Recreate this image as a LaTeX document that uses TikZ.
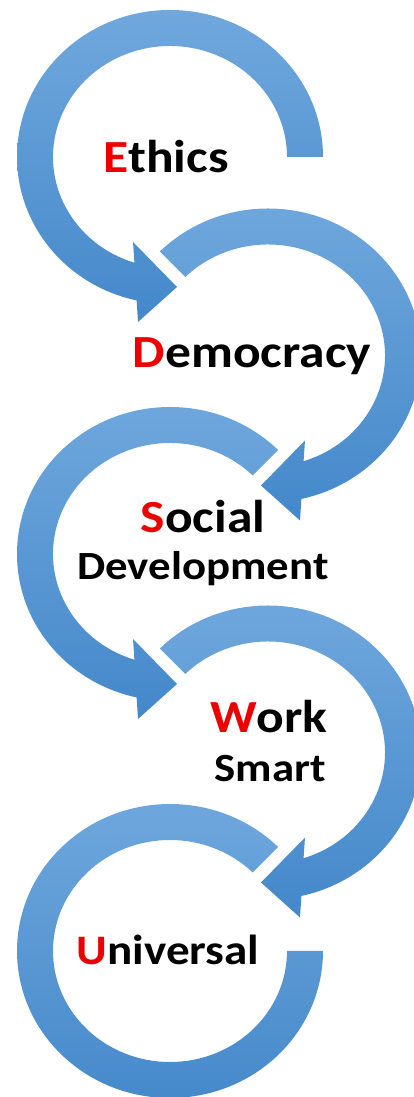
\documentclass[tikz,border=0pt]{standalone}
\usepackage{fontspec}
\setmainfont{Carlito}
\newfontfamily\labelfont[FakeStretch=1.12]{Carlito}
\usepackage{tikz}
\definecolor{ringtop}{RGB}{112,168,221}
\definecolor{ringbot}{RGB}{68,136,202}
\definecolor{initred}{RGB}{236,0,0}
\newcommand{\redcap}[1]{\textcolor{initred}{#1}}

\begin{document}
\begin{tikzpicture}[x=1pt,y=1pt,
  ring/.style={top color=ringtop,bottom color=ringbot},
  big/.style={anchor=base,inner sep=0pt,font=\labelfont\bfseries\fontsize{46}{50}\selectfont},
  small/.style={anchor=base,inner sep=0pt,font=\labelfont\bfseries\fontsize{40}{44}\selectfont}]
\useasboundingbox (0,0) rectangle (414,1097);
\foreach \cx/\cy/\sx/\st in {170/940/1/0,268/741.5/-1/45,170/543/1/45,268/344.5/-1/45} {
  \begin{scope}[shift={(\cx,\cy)},xscale=\sx]
  \shade[ring] (\st:153 and 147) arc[start angle=\st,end angle=257.4,x radius=153,y radius=147]
    -- (-32,-165) -- (7,-130) -- (-37,-85) -- (252.3:117 and 111)
    arc[start angle=252.3,end angle=\st,x radius=117,y radius=111] -- cycle;
  \end{scope}
}
\begin{scope}[shift={(170,146)}]
\shade[ring] (45:153 and 147) arc[start angle=45,end angle=360,x radius=153,y radius=147]
  -- (0:117 and 111) arc[start angle=360,end angle=45,x radius=117,y radius=111] -- cycle;
\end{scope}
\node[big] (ethics) at (166,924) {\redcap{E}thics};
\node[big] (democracy) at (252,729) {\redcap{D}emocracy};
\node[big] (social) at (203,564) {\redcap{S}ocial};
\node[small] (development) at (203,517) {Development};
\node[big] (work) at (269,364) {\redcap{W}ork};
\node[small] (smart) at (270,315) {Smart};
\node[big,font=\labelfont\bfseries\fontsize{42}{46}\selectfont] (universal) at (168,132) {\redcap{U}niversal};
\end{tikzpicture}
\end{document}
